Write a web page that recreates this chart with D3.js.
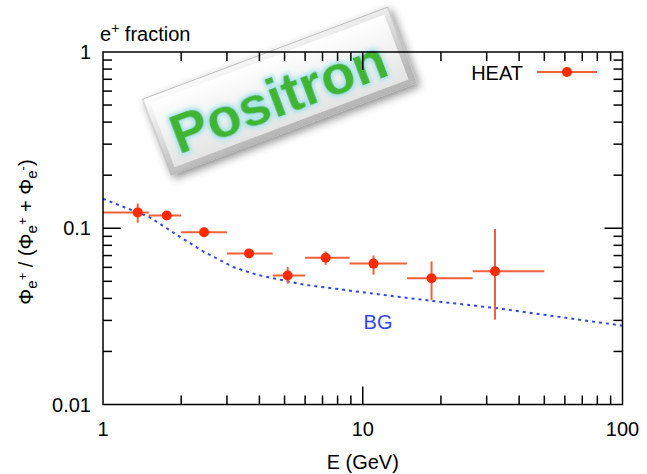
<!DOCTYPE html>
<html lang="en">
<head>
  <meta charset="UTF-8">
  <title>e+ fraction</title>
  <style>
    body { margin: 0; background: #fff; }
    text { font-family: "Liberation Sans", Arial, Helvetica, sans-serif; }
  </style>
</head>
<body>
  <div id="chart"></div>
  <script src="https://d3js.org/d3.v7.min.js"></script>
  <script>
    // HEAT positron fraction
    const energy   = [1.36, 1.76, 2.45, 3.65, 5.14, 7.2, 11.0, 18.4, 32.3];
    const eLow     = [1.0, 1.5, 2.0, 3.0, 4.5, 6.0, 8.9, 14.8, 26.5];
    const eHigh    = [1.5, 2.0, 3.0, 4.5, 6.0, 8.9, 14.8, 26.5, 50.0];
    const fraction = [0.123, 0.118, 0.095, 0.072, 0.054, 0.068, 0.063, 0.052, 0.057];
    const fracLow  = [0.1075, 0.113, 0.091, 0.069, 0.0485, 0.062, 0.0545, 0.039, 0.0303];
    const fracHigh = [0.138, 0.123, 0.099, 0.075, 0.0603, 0.0739, 0.0701, 0.0648, 0.099];

    // background (BG) curve
    const bgEnergy = [1.0, 1.51, 1.92, 2.43, 3.17, 3.91, 4.66, 5.9, 7.48, 10.36, 18.2, 32.3, 100];
    const bgFrac   = [0.147, 0.1157, 0.0919, 0.0739, 0.0603, 0.0545, 0.0516, 0.0479, 0.0458, 0.043, 0.0388, 0.0353, 0.028];

    const xTickLabels = ["1", "10", "100"];
    const yTickLabels = ["0.01", "0.1", "1"];

    const width = 647, height = 474;
    const plotL = 103, plotR = 622.5, plotT = 52, plotB = 404.5;
    const fs = 20;

    const svg = d3.select("#chart").append("svg")
      .attr("width", width)
      .attr("height", height);

    const x = d3.scaleLog().domain([1, 100]).range([plotL, plotR]);
    const y = d3.scaleLog().domain([0.01, 1]).range([plotB, plotT]);

    const heat = energy.map((e, i) => ({
      e, lo: eLow[i], hi: eHigh[i], f: fraction[i], fl: fracLow[i], fh: fracHigh[i]
    }));
    const bg = bgEnergy.map((e, i) => ({ e, f: bgFrac[i] }));

    const defs = svg.append("defs");

    // BG dotted line
    svg.append("path")
      .datum(bg)
      .attr("fill", "none")
      .attr("stroke", "#2f49e6")
      .attr("stroke-width", 2)
      .attr("stroke-dasharray", "3,4")
      .attr("d", d3.line().x(d => x(d.e)).y(d => y(d.f)));

    svg.append("text")
      .attr("x", 378).attr("y", 329)
      .attr("text-anchor", "middle")
      .attr("font-size", fs)
      .attr("fill", "#2f49e6")
      .text("BG");

    // HEAT error bars + points
    const red = "#f0603c";
    const pts = svg.append("g");
    pts.selectAll("line.xe").data(heat).join("line")
      .attr("class", "xe")
      .attr("x1", d => x(d.lo)).attr("x2", d => x(d.hi))
      .attr("y1", d => y(d.f)).attr("y2", d => y(d.f))
      .attr("stroke", red).attr("stroke-width", 2);
    pts.selectAll("line.ye").data(heat).join("line")
      .attr("class", "ye")
      .attr("x1", d => x(d.e)).attr("x2", d => x(d.e))
      .attr("y1", d => y(d.fl)).attr("y2", d => y(d.fh))
      .attr("stroke", red).attr("stroke-width", 2);
    pts.selectAll("circle").data(heat).join("circle")
      .attr("cx", d => x(d.e)).attr("cy", d => y(d.f))
      .attr("r", 5)
      .attr("fill", "#ff2a00");

    // Positron badge
    const shadow = defs.append("filter").attr("id", "shadow")
      .attr("x", "-20%").attr("y", "-40%").attr("width", "140%").attr("height", "180%");
    shadow.append("feDropShadow")
      .attr("dx", 2).attr("dy", 4).attr("stdDeviation", 4)
      .attr("flood-color", "#000").attr("flood-opacity", 0.45);

    const outerGrad = defs.append("linearGradient").attr("id", "outerGrad")
      .attr("x1", 0).attr("y1", 0).attr("x2", 0.3).attr("y2", 1);
    outerGrad.append("stop").attr("offset", "0%").attr("stop-color", "#ffffff");
    outerGrad.append("stop").attr("offset", "100%").attr("stop-color", "#b8b8b8");

    const innerGrad = defs.append("linearGradient").attr("id", "innerGrad")
      .attr("x1", 0).attr("y1", 0).attr("x2", 0).attr("y2", 1);
    innerGrad.append("stop").attr("offset", "0%").attr("stop-color", "#ffffff");
    innerGrad.append("stop").attr("offset", "100%").attr("stop-color", "#e4e4e4");

    const glow = defs.append("filter").attr("id", "glow")
      .attr("x", "-10%").attr("y", "-30%").attr("width", "120%").attr("height", "160%");
    glow.append("feMorphology").attr("in", "SourceAlpha").attr("operator", "dilate").attr("radius", 2).attr("result", "d");
    glow.append("feGaussianBlur").attr("in", "d").attr("stdDeviation", 2).attr("result", "b");
    glow.append("feFlood").attr("flood-color", "#a6e3ea").attr("result", "c");
    glow.append("feComposite").attr("in", "c").attr("in2", "b").attr("operator", "in").attr("result", "g");
    const merge = glow.append("feMerge");
    merge.append("feMergeNode").attr("in", "g");
    merge.append("feMergeNode").attr("in", "SourceGraphic");

    const bw = 262, bh = 81;
    const badge = svg.append("g")
      .attr("transform", "translate(279.4,91.1) rotate(-20.6)");
    badge.append("rect")
      .attr("x", -bw / 2).attr("y", -bh / 2)
      .attr("width", bw).attr("height", bh)
      .attr("fill", "url(#outerGrad)")
      .attr("stroke", "#b0b0b0").attr("stroke-width", 0.8)
      .attr("filter", "url(#shadow)");
    badge.append("rect")
      .attr("x", -bw / 2 + 6).attr("y", -bh / 2 + 6)
      .attr("width", bw - 12).attr("height", bh - 12)
      .attr("fill", "url(#innerGrad)");
    badge.append("text")
      .attr("x", -3).attr("y", 24)
      .attr("text-anchor", "middle")
      .attr("font-size", 56)
      .attr("font-weight", "bold")
      .attr("fill", "#3fb532")
      .attr("filter", "url(#glow)")
      .text("Positron");

    // frame + ticks (mirrored on all sides)
    const axes = svg.append("g").attr("stroke", "#000").attr("stroke-width", 1.5);
    axes.append("rect")
      .attr("x", plotL).attr("y", plotT)
      .attr("width", plotR - plotL).attr("height", plotB - plotT)
      .attr("fill", "none");

    const isMajor = v => Math.abs(Math.log10(v) - Math.round(Math.log10(v))) < 1e-9;
    const xt = x.ticks().filter(v => v > 1 && v < 100);
    const yt = y.ticks().filter(v => v > 0.01 && v < 1);

    xt.forEach(v => {
      const len = isMajor(v) ? 18 : 9;
      axes.append("line").attr("x1", x(v)).attr("x2", x(v)).attr("y1", plotB).attr("y2", plotB - len);
      axes.append("line").attr("x1", x(v)).attr("x2", x(v)).attr("y1", plotT).attr("y2", plotT + len);
    });
    yt.forEach(v => {
      const len = isMajor(v) ? 18 : 9;
      axes.append("line").attr("y1", y(v)).attr("y2", y(v)).attr("x1", plotL).attr("x2", plotL + len);
      axes.append("line").attr("y1", y(v)).attr("y2", y(v)).attr("x1", plotR).attr("x2", plotR - len);
    });

    // tick labels
    [1, 10, 100].forEach((v, i) => {
      svg.append("text")
        .attr("x", x(v)).attr("y", plotB + 31)
        .attr("text-anchor", "middle")
        .attr("font-size", fs)
        .text(xTickLabels[i]);
    });
    [0.01, 0.1, 1].forEach((v, i) => {
      svg.append("text")
        .attr("x", plotL - 12).attr("y", y(v) + 7)
        .attr("text-anchor", "end")
        .attr("font-size", fs)
        .text(yTickLabels[i]);
    });

    // axis titles
    svg.append("text")
      .attr("x", (plotL + plotR) / 2).attr("y", 469)
      .attr("text-anchor", "middle")
      .attr("font-size", fs)
      .text("E (GeV)");

    const title = svg.append("text")
      .attr("x", 100).attr("y", 41)
      .attr("font-size", fs);
    title.append("tspan").text("e");
    title.append("tspan").attr("dy", -8).attr("font-size", 14).text("+");
    title.append("tspan").attr("dy", 8).text(" fraction");

    const yl = svg.append("text")
      .attr("transform", "translate(33,232) rotate(-90)")
      .attr("text-anchor", "middle")
      .attr("font-size", fs);
    const parts = [
      ["Φ", 0, fs], ["e", 4, 15], ["+", -10, 13], [" / (Φ", 6, fs],
      ["e", 4, 15], ["+", -10, 13], [" + Φ", 6, fs],
      ["e", 4, 15], ["-", -10, 13], [")", 6, fs]
    ];
    parts.forEach(([t, dy, size]) => {
      yl.append("tspan").attr("dy", dy).attr("font-size", size).text(t);
    });

    // legend
    svg.append("text")
      .attr("x", 523).attr("y", 80)
      .attr("text-anchor", "end")
      .attr("font-size", fs)
      .text("HEAT");
    svg.append("line")
      .attr("x1", 537).attr("x2", 597).attr("y1", 72).attr("y2", 72)
      .attr("stroke", red).attr("stroke-width", 2);
    svg.append("circle")
      .attr("cx", 567).attr("cy", 72).attr("r", 5)
      .attr("fill", "#ff2a00");
  </script>
</body>
</html>
